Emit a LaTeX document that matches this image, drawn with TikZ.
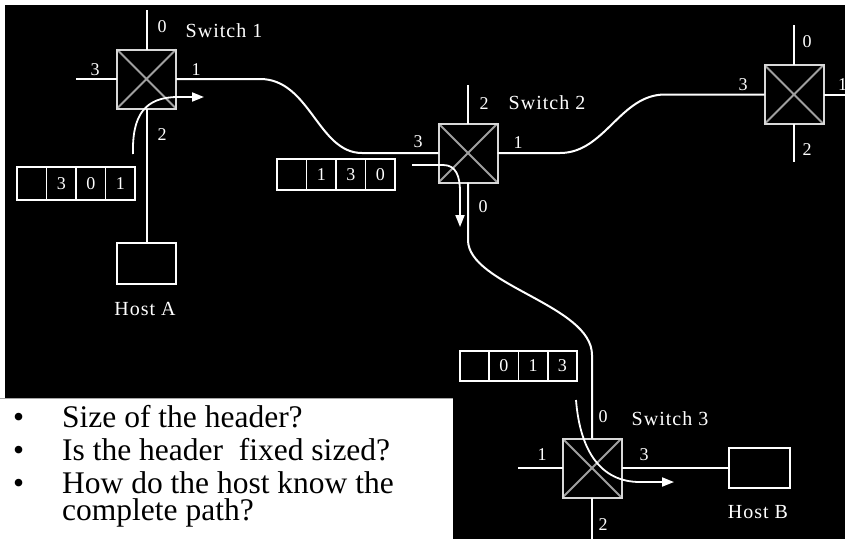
\documentclass[tikz,border=0pt]{standalone}
\usepackage{fontspec}
\setmainfont{Liberation Serif}
\newfontfamily\labfont[LetterSpace=5]{Liberation Serif}
\usetikzlibrary{arrows.meta}
\definecolor{boxgray}{HTML}{D8D8D8}
\definecolor{diaggray}{HTML}{A0A0A0}
\begin{document}
\begin{tikzpicture}[x=1pt,y=-1pt,
  lab/.style={text=white,font=\labfont\fontsize{20}{22}\selectfont,inner sep=0},
  num/.style={text=white,font=\labfont\fontsize{18}{20}\selectfont,inner sep=0},
  sw/.style={draw=boxgray,line width=2pt,minimum size=59pt,inner sep=0,outer sep=0},
  diag/.style={diaggray,line width=2pt},
  host/.style={draw=white,line width=2pt,inner sep=0,outer sep=0},
  wire/.style={white,line width=2pt},
  cell/.style={draw=white,line width=1.6pt,minimum width=29.5pt,inner sep=0,outer sep=0,
    text=white,font=\labfont\fontsize{18}{20}\selectfont},
  flow/.style={white,line width=1.8pt,-{Triangle[length=12pt,width=9pt]}},
  bul/.style={text=black,font=\fontsize{31.5}{34}\selectfont,inner sep=0,anchor=base west}]
\useasboundingbox (0,0) rectangle (845,538);
\fill[white] (0,0) rectangle (845,538);
\fill[black] (5,5) rectangle (846,539);

% switches
\node[sw] (s1) at (146.5,79) {};
\node[sw] (s2) at (468,153) {};
\node[sw] (s4) at (794,94.5) {};
\node[sw] (s3) at (592,468) {};
\foreach \s in {s1,s2,s3,s4}{
  \draw[diag] (\s.north west) -- (\s.south east) (\s.north east) -- (\s.south west);
  \draw[draw=boxgray,line width=2pt] (\s.north west) rectangle (\s.south east);
}

% hosts
\node[host,minimum width=59pt,minimum height=41pt] (hA) at (146.5,263.5) {};
\node[host,minimum width=61pt,minimum height=40pt] (hB) at (759.5,468) {};

% free ends
\coordinate (s1t) at (146.5,10);
\coordinate (s1l) at (76,79);
\coordinate (s4t) at (794,25);
\coordinate (s4b) at (794,162);
\coordinate (s4r) at (850,94.5);
\coordinate (s3l) at (518,468);
\coordinate (s3b) at (592,542);
\coordinate (s2t) at (468,85);

% port wires
\draw[wire] (s1.north) -- (s1t);
\draw[wire] (s1.west) -- (s1l);
\draw[wire] (s1.south) -- (hA.north);
\draw[wire] (s2.north) -- (s2t);
\draw[wire] (s4.north) -- (s4t);
\draw[wire] (s4.south) -- (s4b);
\draw[wire] (s4.east) -- (s4r);
\draw[wire] (s3.west) -- (s3l);
\draw[wire] (s3.south) -- (s3b);
\draw[wire] (s3.east) -- (hB.west);

% links
\draw[wire] (s1.east) -- (260,79) .. controls (310,79) and (318,153) .. (362,153) -- (s2.west);
\draw[wire] (s2.south) -- (468,240) .. controls (468,285) and (592,305) .. (592,355) -- (s3.north);
\draw[wire] (s2.east) -- (560,153) .. controls (605,153) and (620,94.5) .. (665,94.5) -- (s4.west);

% flow arrows
\coordinate (a1s) at (133,154);
\coordinate (a1e) at (204,97);
\draw[flow] (a1s) .. controls (132,115) and (145,97) .. (178,97) -- (a1e);
\coordinate (a2s) at (412,165);
\coordinate (a2e) at (460,227);
\draw[flow] (a2s) -- (443,165) .. controls (456,165) and (460,176) .. (460,192) -- (a2e);
\coordinate (a3s) at (576,400);
\coordinate (a3e) at (674,482);
\draw[flow] (a3s) .. controls (580,450) and (600,482) .. (640,482) -- (a3e);

% packets
\node[cell,minimum height=33pt] (p1a) at (31.75,183.5) {};
\node[cell,minimum height=33pt] (p1b) at (61.25,183.5) {3};
\node[cell,minimum height=33pt] (p1c) at (90.75,183.5) {0};
\node[cell,minimum height=33pt] (p1d) at (120.25,183.5) {1};
\node[cell,minimum height=31pt] (p2a) at (291.75,174.5) {};
\node[cell,minimum height=31pt] (p2b) at (321.25,174.5) {1};
\node[cell,minimum height=31pt] (p2c) at (350.75,174.5) {3};
\node[cell,minimum height=31pt] (p2d) at (380.25,174.5) {0};
\node[cell,minimum height=30pt,minimum width=29.25pt] (p3a) at (474.6,366) {};
\node[cell,minimum height=30pt,minimum width=29.25pt] (p3b) at (503.9,366) {0};
\node[cell,minimum height=30pt,minimum width=29.25pt] (p3c) at (533.1,366) {1};
\node[cell,minimum height=30pt,minimum width=29.25pt] (p3d) at (562.4,366) {3};

% labels
\node[num] (l10) at (162,27) {0};
\node[lab] (l1n) at (224,31) {Switch 1};
\node[num] (l13) at (95,70) {3};
\node[num] (l11) at (196,70) {1};
\node[num] (l12) at (162,135) {2};
\node[lab] (lhA) at (145,308.5) {Host A};
\node[num] (l22) at (484,104) {2};
\node[lab] (l2n) at (547,103) {Switch 2};
\node[num] (l23) at (418,142) {3};
\node[num] (l21) at (518,143) {1};
\node[num] (l20) at (483,207) {0};
\node[num] (l40) at (807,42) {0};
\node[num] (l43) at (743,85) {3};
\node[num] (l42) at (807,150) {2};
\node[num,anchor=west] (l41) at (838,85) {1};
\node[num] (l30) at (603,417) {0};
\node[lab] (l3n) at (670,419) {Switch 3};
\node[num] (l31) at (542,455) {1};
\node[num] (l33) at (644,455) {3};
\node[num] (l32) at (603,525) {2};
\node[lab] (lhB) at (758,512) {Host B};

% question box
\fill[white] (0,398) rectangle (453,540);
\draw[gray!70,line width=0.8pt] (0,398) -- (453,398);
\node[bul] (d1) at (13,427) {•};
\node[bul] (t1) at (62,427) {Size of the header?};
\node[bul] (d2) at (13,460) {•};
\node[bul] (t2) at (62,460) {Is the header\ \ fixed sized?};
\node[bul] (d3) at (13,493) {•};
\node[bul] (t3) at (62,493) {How do the host know the};
\node[bul] (t4) at (62,520) {complete path?};
\end{tikzpicture}
\end{document}
